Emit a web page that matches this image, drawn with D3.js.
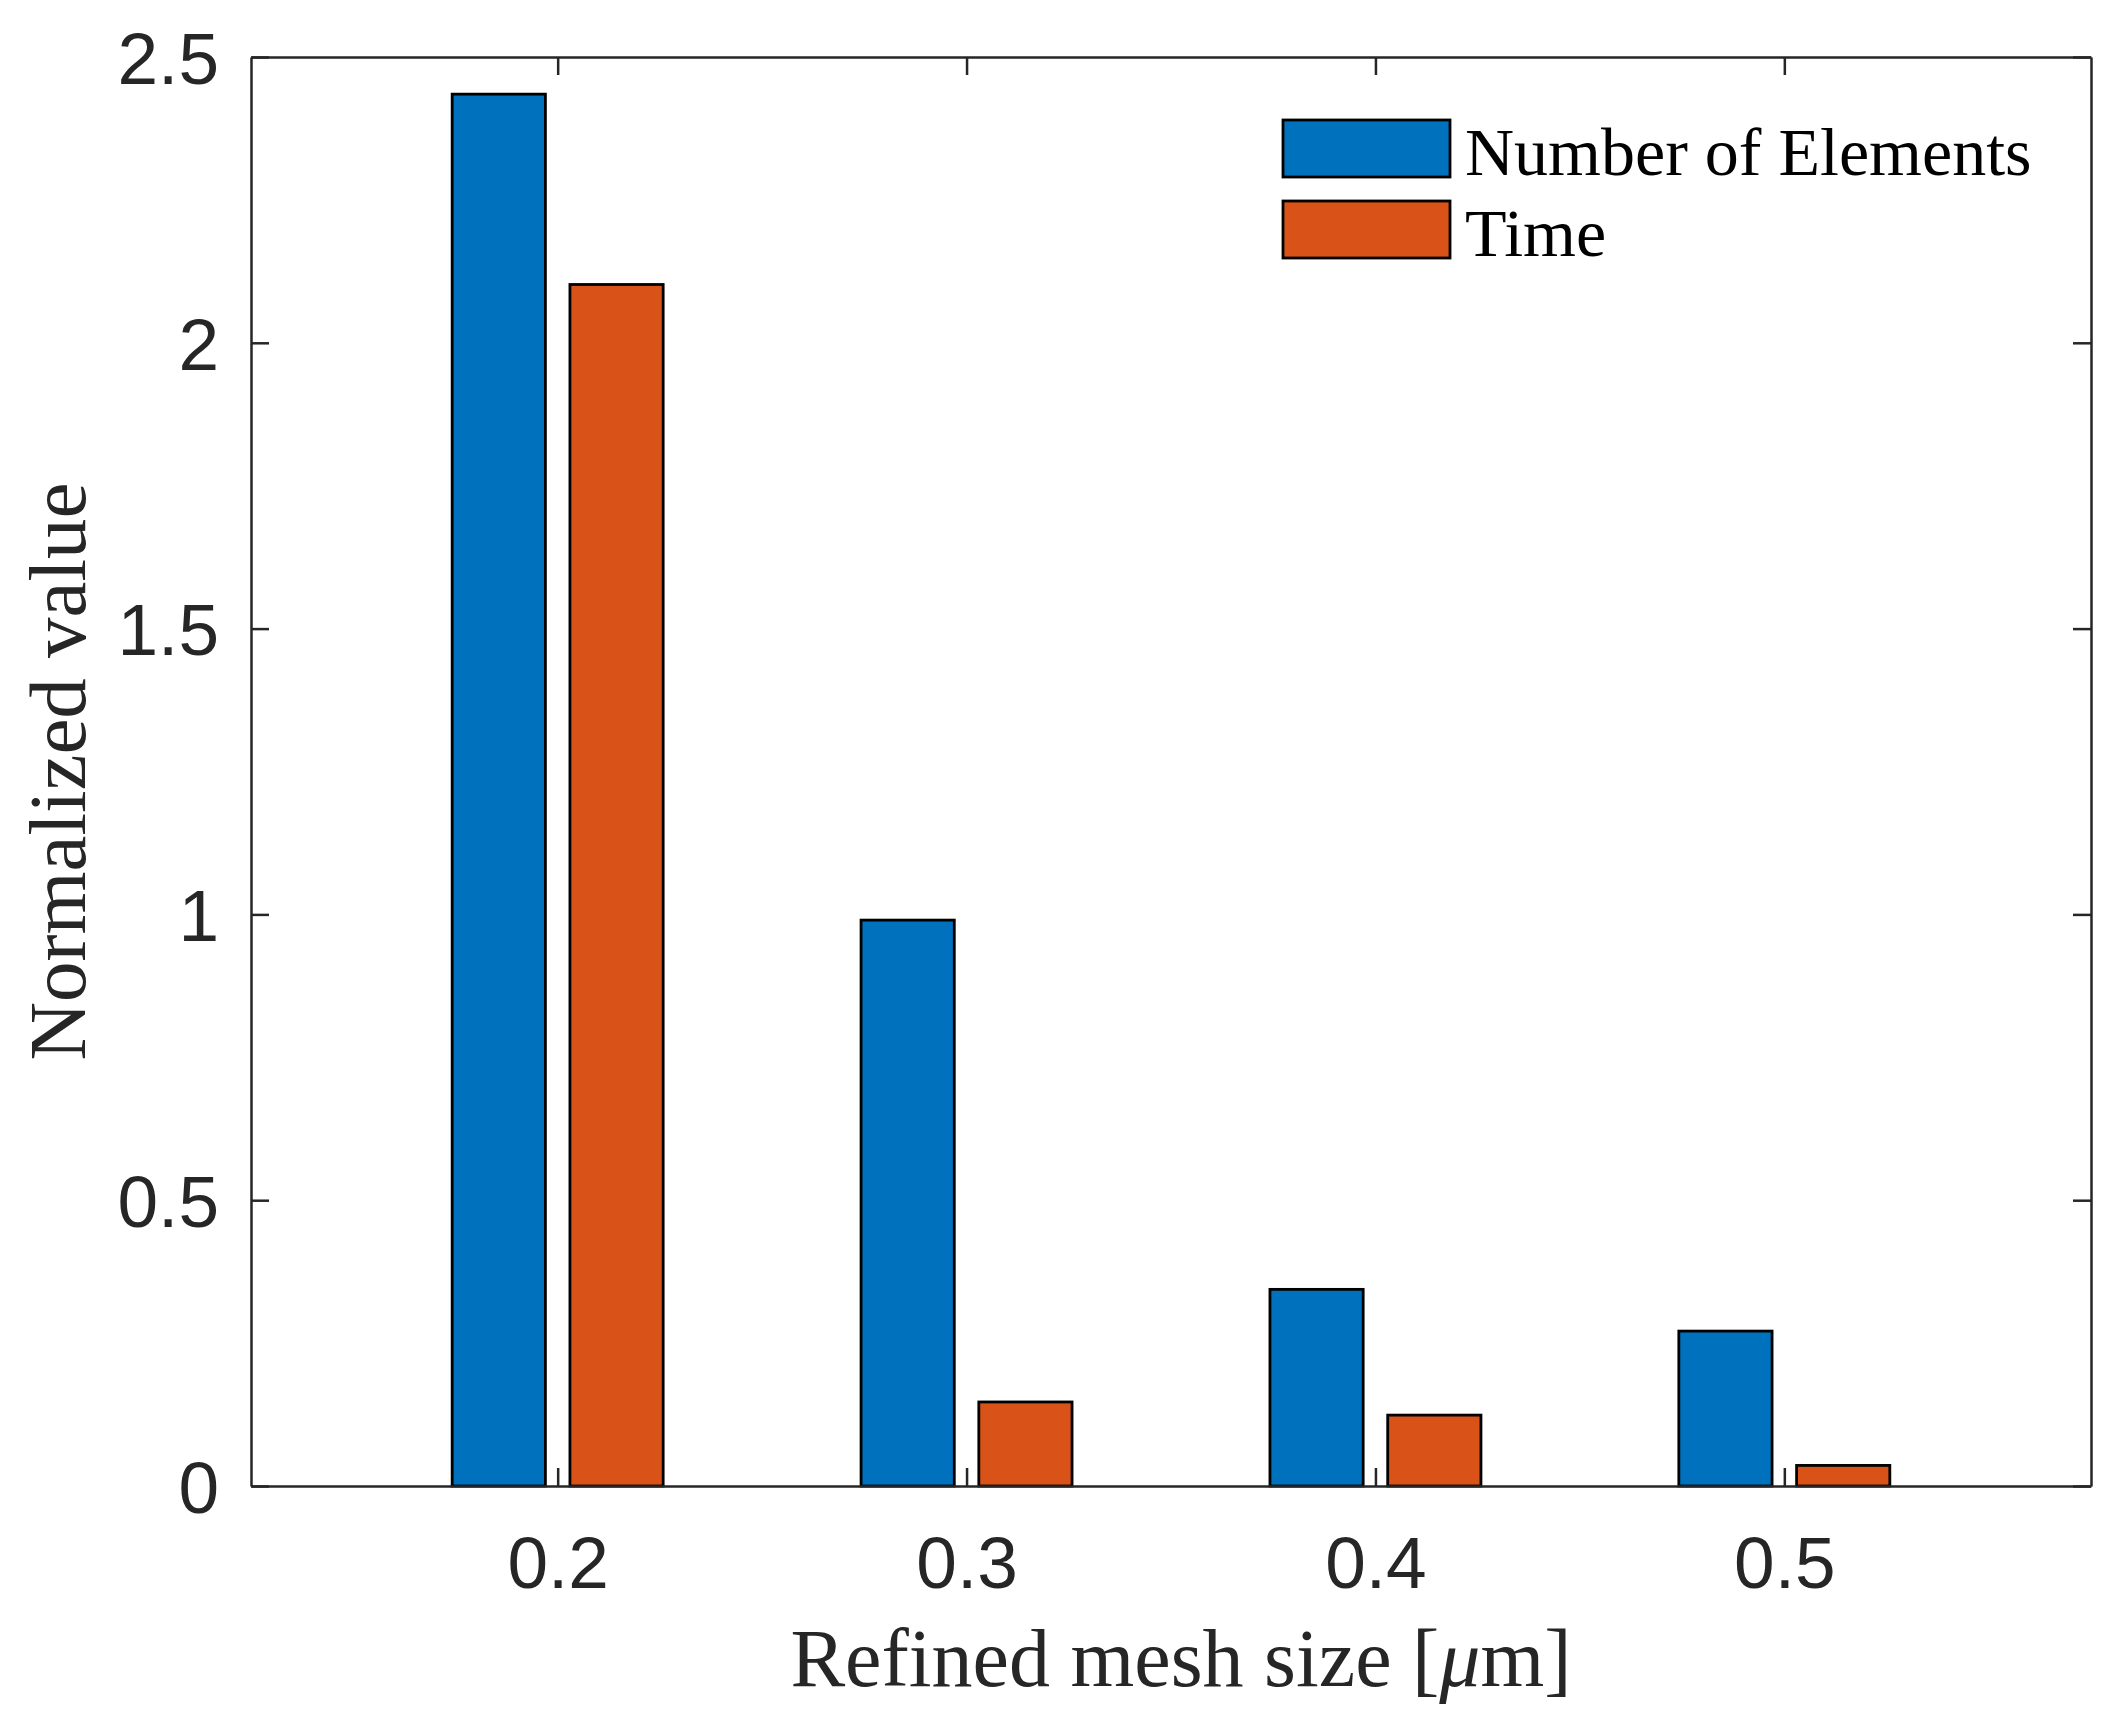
<!DOCTYPE html>
<html>
<head>
<meta charset="utf-8">
<script src="https://cdn.jsdelivr.net/npm/d3@7"></script>
<style>
  body { margin: 0; background: #fff; }
</style>
</head>
<body>
<div id="chart"></div>
<script>
// data
const categories = ["0.2", "0.3", "0.4", "0.5"];
const seriesNames = ["Number of Elements", "Time"];
const elements = [2.435, 0.99, 0.344, 0.271];
const time = [2.102, 0.147, 0.124, 0.036];
const yTicks = [0, 0.5, 1, 1.5, 2, 2.5];

const colors = ["#0072BD", "#D95319"];

// set dimensions and margins
const W = 2128, H = 1735;
const margin = { top: 57, right: 37, bottom: 249, left: 251 };
const width = W - margin.left - margin.right;
const height = H - margin.top - margin.bottom;

const svg = d3.select("#chart")
  .append("svg")
    .attr("width", W)
    .attr("height", H)
  .append("g")
    .attr("transform", `translate(${margin.left},${margin.top})`);

// scales (categories sit at 1..4 like matlab)
const x = d3.scaleLinear().domain([0.25, 4.75]).range([0, width]);
const y = d3.scaleLinear().domain([0, 2.5]).range([height, 0]);

const barW = 0.228, offset = 0.144;
const tick = 18;
const axisColor = "#262626";

// bars
const data = [];
categories.forEach(function(c, i) {
  data.push({ cat: i + 1, s: 0, v: elements[i] });
  data.push({ cat: i + 1, s: 1, v: time[i] });
});

svg.append("g")
  .selectAll("rect")
  .data(data)
  .enter()
  .append("rect")
    .attr("x", d => x(d.cat + (d.s === 0 ? -offset : offset) - barW / 2))
    .attr("width", d => x(barW) - x(0))
    .attr("y", d => y(d.v))
    .attr("height", d => y(0) - y(d.v))
    .attr("fill", d => colors[d.s])
    .attr("stroke", "#000")
    .attr("stroke-width", 2.8);

// axes
const fontSans = "'Liberation Sans', Arial, sans-serif";
const fontSerif = "'Liberation Serif', 'Times New Roman', serif";

const xAxis = d3.axisBottom(x)
  .tickValues([1, 2, 3, 4])
  .tickFormat((d, i) => categories[i])
  .tickSizeInner(-tick)
  .tickSizeOuter(0)
  .tickPadding(50);

const gx = svg.append("g")
  .attr("transform", `translate(0,${height})`)
  .call(xAxis);

const yAxis = d3.axisLeft(y)
  .tickValues(yTicks)
  .tickFormat(d3.format(""))
  .tickSizeInner(-tick)
  .tickSizeOuter(0)
  .tickPadding(32);

const gy = svg.append("g").call(yAxis);

// top and right axes, ticks only
const gTop = svg.append("g")
  .call(d3.axisTop(x).tickValues([1, 2, 3, 4]).tickSizeInner(-tick).tickSizeOuter(0).tickFormat(""));
const gRight = svg.append("g")
  .attr("transform", `translate(${width},0)`)
  .call(d3.axisRight(y).tickValues(yTicks).tickSizeInner(-tick).tickSizeOuter(0).tickFormat(""));

[gx, gy, gTop, gRight].forEach(function(g) {
  g.select(".domain").attr("stroke", axisColor).attr("stroke-width", 2.5);
  g.selectAll(".tick line").attr("stroke", axisColor).attr("stroke-width", 2.5);
  g.selectAll(".tick text")
    .attr("fill", "#262626")
    .style("font-family", fontSans)
    .style("font-size", "73px");
});
gy.selectAll(".tick text").attr("dy", "0.36em");

// x-axis label
svg.append("text")
  .attr("x", width / 2 + 10)
  .attr("y", height + 200)
  .attr("text-anchor", "middle")
  .style("font-family", fontSerif)
  .style("font-size", "82px")
  .attr("fill", "#262626")
  .html("Refined mesh size [<tspan font-style='italic'>μ</tspan>m]");

// y-axis label
svg.append("text")
  .attr("transform", "rotate(-90)")
  .attr("x", -(height / 2))
  .attr("y", 85 - margin.left)
  .attr("text-anchor", "middle")
  .style("font-family", fontSerif)
  .style("font-size", "81px")
  .attr("fill", "#262626")
  .text("Normalized value");

// legend
const legend = svg.append("g")
  .attr("transform", `translate(${1283 - margin.left},${120 - margin.top})`);

seriesNames.forEach(function(name, i) {
  legend.append("rect")
    .attr("x", 0)
    .attr("y", i * 81)
    .attr("width", 167)
    .attr("height", 57)
    .attr("fill", colors[i])
    .attr("stroke", "#000")
    .attr("stroke-width", 2.8);
  legend.append("text")
    .attr("x", 182)
    .attr("y", i * 81 + 55)
    .style("font-family", fontSerif)
    .style("font-size", "68px")
    .attr("fill", "#000")
    .text(name);
});
</script>
</body>
</html>
